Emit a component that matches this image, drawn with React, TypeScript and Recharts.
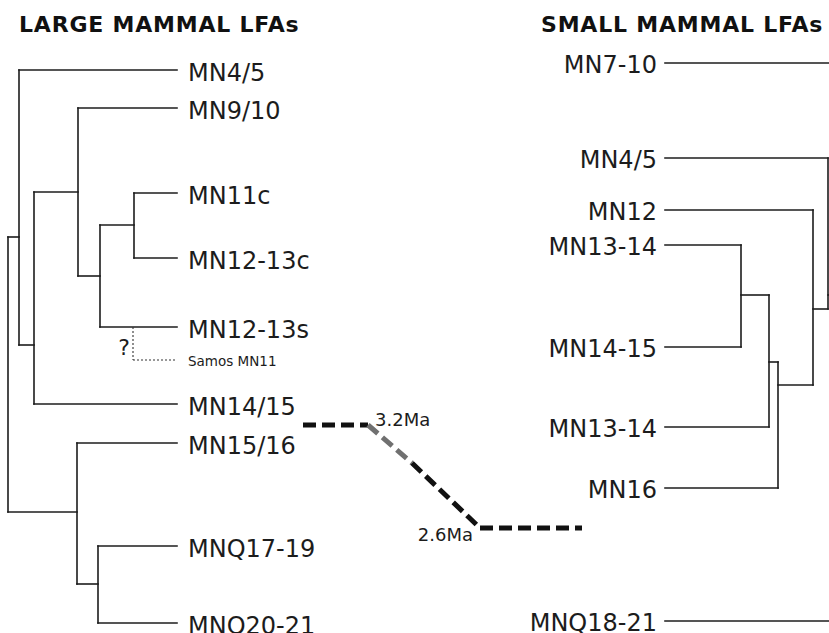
import React from 'react';
import { ComposedChart, XAxis, YAxis, ReferenceLine, Scatter } from 'recharts';

const W = 829;
const H = 633;

// ---- Large mammal LFAs dendrogram (leaves on the right, root on the left)
const largeLeafNames = ['MN4/5', 'MN9/10', 'MN11c', 'MN12-13c', 'MN12-13s', 'MN14/15', 'MN15/16', 'MNQ17-19', 'MNQ20-21'];
const largeLeafRows = [70, 108, 193, 258, 327, 404, 443, 546, 623];
const largeLeafDepth = 177;
const largeNodeDepth = [134, 100, 78, 34, 19, 98, 77, 8];
const largeNodeRows = [225, 276, 192, 345, 237, 584, 512, 375];
const largeNodeKids = [['L2', 'L3'], ['N0', 'L4'], ['L1', 'N1'], ['N2', 'L5'], ['L0', 'N3'], ['L7', 'L8'], ['L6', 'N5'], ['N4', 'N6']];

// Samos MN11 (uncertain attachment, dotted)
const samosName = 'Samos MN11';
const samosAttachRow = 327;
const samosDepth = 133;
const samosRow = 360;

// ---- Small mammal LFAs dendrogram (leaves on the left, root beyond the right edge)
const smallLeafNames = ['MN7-10', 'MN4/5', 'MN12', 'MN13-14', 'MN14-15', 'MN13-14', 'MN16', 'MNQ18-21'];
const smallLeafRows = [63, 158, 210, 245, 347, 427, 488, 621];
const smallLeafDepth = 665;
const smallNodeDepth = [741, 769, 778, 813, 828, 845];
const smallNodeRows = [295, 362, 385, 309, 295, 340];
const smallNodeKids = [['L3', 'L4'], ['N0', 'L5'], ['N1', 'L6'], ['L2', 'N2'], ['L1', 'N3'], ['L0', 'N4', 'L7']];

// ---- Correlation boundary (thick dashed)
const boundaryX = [303, 368, 412, 480, 582];
const boundaryY = [425, 425, 463, 528, 528];
const boundaryColors = ['#111111', '#707070', '#111111', '#111111'];
const ageLabels = ['3.2Ma', '2.6Ma'];
const ageIndex = [1, 3];

const titles = ['LARGE MAMMAL LFAs', 'SMALL MAMMAL LFAs'];
const titleX = [19, 541];
const titleY = [32, 32];

type Seg = { x1: number; y1: number; x2: number; y2: number };

function buildTree(leafRows: number[], leafDepth: number, nodeDepth: number[], nodeRows: number[], nodeKids: string[][]): Seg[] {
  const pos = (id: string) => {
    const k = +id.slice(1);
    return id[0] === 'L' ? { x: leafDepth, y: leafRows[k] } : { x: nodeDepth[k], y: nodeRows[k] };
  };
  const segs: Seg[] = [];
  nodeKids.forEach((kids, i) => {
    const x = nodeDepth[i];
    const ys = kids.map((k) => pos(k).y);
    segs.push({ x1: x, y1: Math.min(...ys), x2: x, y2: Math.max(...ys) });
    kids.forEach((k) => {
      const p = pos(k);
      segs.push({ x1: x, y1: p.y, x2: p.x, y2: p.y });
    });
  });
  return segs;
}

const largeSegs = buildTree(largeLeafRows, largeLeafDepth, largeNodeDepth, largeNodeRows, largeNodeKids);
const smallSegs = buildTree(smallLeafRows, smallLeafDepth, smallNodeDepth, smallNodeRows, smallNodeKids);
const samosSegs: Seg[] = [
  { x1: samosDepth, y1: samosAttachRow, x2: samosDepth, y2: samosRow },
  { x1: samosDepth, y1: samosRow, x2: largeLeafDepth, y2: samosRow },
];
const boundarySegs = boundaryX.slice(0, -1).map((x, i) => ({ x1: x, y1: boundaryY[i], x2: boundaryX[i + 1], y2: boundaryY[i + 1], c: boundaryColors[i] }));

const largeLabelData = largeLeafNames.map((name, i) => ({ x: largeLeafDepth, y: largeLeafRows[i], name }));
const smallLabelData = smallLeafNames.map((name, i) => ({ x: smallLeafDepth, y: smallLeafRows[i], name }));
const samosLabelData = [{ x: largeLeafDepth, y: samosRow, name: samosName }];
const questionData = [{ x: samosDepth, y: samosAttachRow, name: '?' }];
const ageData = ageLabels.map((name, i) => ({ x: boundaryX[ageIndex[i]], y: boundaryY[ageIndex[i]], name, side: i }));
const titleData = titles.map((name, i) => ({ x: titleX[i], y: titleY[i], name }));

const FONT = '"DejaVu Sans", sans-serif';
const INK = '#1c1c1c';

export default function App() {
  return (
    <div style={{ position: 'absolute', left: 0, top: 0, width: W, height: H, background: '#fff' }}>
      <ComposedChart width={W} height={H} margin={{ top: 0, right: 0, bottom: 0, left: 0 }}>
        <XAxis type="number" dataKey="x" domain={[0, W]} hide allowDataOverflow />
        <YAxis type="number" dataKey="y" domain={[0, H]} reversed hide allowDataOverflow />
        {[...largeSegs, ...smallSegs].map((s, i) => (
          <ReferenceLine
            key={'t' + i}
            segment={[{ x: s.x1, y: s.y1 }, { x: s.x2, y: s.y2 }]}
            stroke={INK}
            strokeWidth={1.6}
            strokeLinecap="square"
            ifOverflow="hidden"
          />
        ))}
        {samosSegs.map((s, i) => (
          <ReferenceLine
            key={'s' + i}
            segment={[{ x: s.x1, y: s.y1 }, { x: s.x2, y: s.y2 }]}
            stroke="#333"
            strokeWidth={1.1}
            strokeDasharray="2 2"
            ifOverflow="hidden"
          />
        ))}
        {boundarySegs.map((s, i) => (
          <ReferenceLine
            key={'b' + i}
            segment={[{ x: s.x1, y: s.y1 }, { x: s.x2, y: s.y2 }]}
            stroke={s.c}
            strokeWidth={5}
            strokeDasharray="13 6"
            ifOverflow="hidden"
          />
        ))}
        <Scatter
          data={largeLabelData}
          isAnimationActive={false}
          shape={(p: any) => (
            <text x={p.cx + 11} y={p.cy + 10.5} fontFamily={FONT} fontSize={24} fill={INK}>
              {p.payload.name}
            </text>
          )}
        />
        <Scatter
          data={smallLabelData}
          isAnimationActive={false}
          shape={(p: any) => (
            <text x={p.cx - 8} y={p.cy + 10} textAnchor="end" fontFamily={FONT} fontSize={24} fill={INK}>
              {p.payload.name}
            </text>
          )}
        />
        <Scatter
          data={samosLabelData}
          isAnimationActive={false}
          shape={(p: any) => (
            <text x={p.cx + 11} y={p.cy + 6} fontFamily={FONT} fontSize={13.5} fill={INK}>
              {p.payload.name}
            </text>
          )}
        />
        <Scatter
          data={questionData}
          isAnimationActive={false}
          shape={(p: any) => (
            <text x={p.cx - 9} y={p.cy + 28} textAnchor="middle" fontFamily={FONT} fontSize={22} fill={INK}>
              {p.payload.name}
            </text>
          )}
        />
        <Scatter
          data={ageData}
          isAnimationActive={false}
          shape={(p: any) =>
            p.payload.side === 0 ? (
              <text x={p.cx + 7} y={p.cy + 1} fontFamily={FONT} fontSize={18} fill={INK}>
                {p.payload.name}
              </text>
            ) : (
              <text x={p.cx - 7} y={p.cy + 13} textAnchor="end" fontFamily={FONT} fontSize={18} fill={INK}>
                {p.payload.name}
              </text>
            )
          }
        />
        <Scatter
          data={titleData}
          isAnimationActive={false}
          shape={(p: any) => (
            <text x={p.cx} y={p.cy} fontFamily={FONT} fontSize={22} fontWeight="bold" letterSpacing={0.8} fill="#111">
              {p.payload.name}
            </text>
          )}
        />
      </ComposedChart>
    </div>
  );
}
